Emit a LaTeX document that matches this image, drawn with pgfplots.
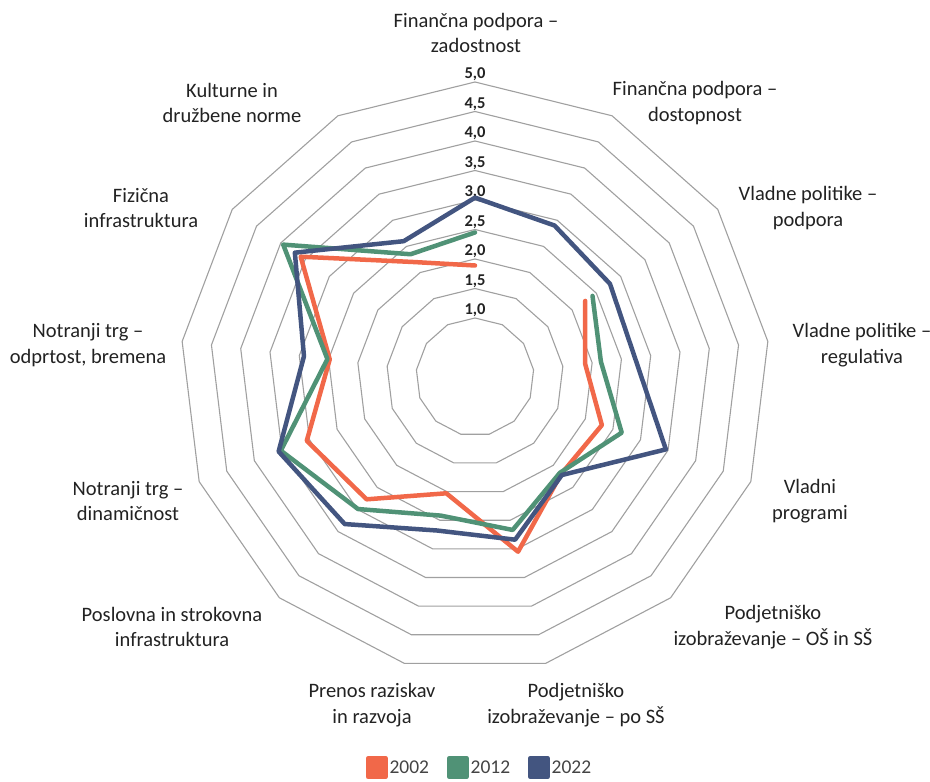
\documentclass[border=0pt]{standalone}
\usepackage{fontspec}
\setmainfont{Carlito}
\usepackage{pgfplots}
\usepackage{pgfplotstable}
\pgfplotsset{compat=1.18}
\usepgfplotslibrary{polar}
\definecolor{c2002}{HTML}{F16849}
\definecolor{c2012}{HTML}{509276}
\definecolor{c2022}{HTML}{435580}
\definecolor{ringc}{HTML}{A0A0A0}
\definecolor{txt}{HTML}{222222}
\definecolor{legtxt}{HTML}{444444}
\pgfplotsset{sqlegend/.style={legend image code/.code={\fill[##1] (0pt,-9pt) rectangle (18pt,9pt);}}}

% angle (deg, counter-clockwise from east), 2002, 2012, 2022
\pgfplotstableread{
ang a b c
90 1.89 2.45 3.04
62.3077 nan nan 2.90
34.6154 2.27 2.42 2.78
6.9231 1.88 2.15 2.73
339.2308 2.30 2.66 3.46
311.5385 2.20 2.17 2.22
283.8462 3.05 2.67 2.84
256.1538 2.03 2.42 2.68
228.4615 2.77 2.99 3.33
200.7692 3.05 3.52 3.56
173.0769 2.48 2.52 2.92
145.3846 3.59 3.95 3.71
117.6923 2.20 2.35 2.60
90 1.89 2.45 3.04
}\radar

\begin{document}
\begin{tikzpicture}[x=1pt,y=1pt]
\path[use as bounding box] (0,0) rectangle (930,782);
\begin{polaraxis}[
  at={(475pt,405pt)}, anchor=center,
  width=590pt, height=590pt, scale only axis,
  hide axis, ymin=0, ymax=5, xmin=0, xmax=360,
  clip=false, unbounded coords=jump,
  sqlegend,
  legend style={at={(0.507,-0.162)}, anchor=center, draw=none, fill=none,
    legend columns=3, font=\fontsize{19.5}{20}\selectfont\color{legtxt},
    nodes={inner sep=1.5pt},
    /tikz/every even column/.append style={column sep=16pt}},
  legend cell align=left,
  every axis plot/.append style={line width=4.5pt, line join=round, line cap=round},
]
\pgfplotsinvokeforeach{1,1.5,2,2.5,3,3.5,4,4.5,5}{
  \addplot[draw=ringc, line width=1.1pt, line join=miter, forget plot] table[x=ang, y expr=#1]{\radar};
}
\tikzset{rlab/.style={anchor=south, font=\fontsize{16.5}{16.5}\selectfont\bfseries, text=txt, inner sep=1pt}}
\node[rlab] at (axis cs:90,1) {1,0};
\node[rlab] at (axis cs:90,1.5) {1,5};
\node[rlab] at (axis cs:90,2) {2,0};
\node[rlab] at (axis cs:90,2.5) {2,5};
\node[rlab] at (axis cs:90,3) {3,0};
\node[rlab] at (axis cs:90,3.5) {3,5};
\node[rlab] at (axis cs:90,4) {4,0};
\node[rlab] at (axis cs:90,4.5) {4,5};
\node[rlab] at (axis cs:90,5) {5,0};
\addplot[color=c2002] table[x=ang, y=a]{\radar};
\addlegendentry{2002}
\addplot[color=c2012] table[x=ang, y=b]{\radar};
\addlegendentry{2012}
\addplot[color=c2022] table[x=ang, y=c]{\radar};
\addlegendentry{2022}
\end{polaraxis}
\begin{scope}[every node/.style={align=center, text=txt, font=\fontsize{20.5}{25.5}\selectfont, inner sep=0pt}]
\node at (476,749) {Finančna podpora –\\zadostnost};
\node at (695,679) {Finančna podpora –\\dostopnost};
\node at (808,574) {Vladne politike –\\podpora};
\node at (862,437) {Vladne politike –\\regulativa};
\node at (810,281) {Vladni\\programi};
\node at (773,155) {Podjetniško\\izobraževanje – OŠ in SŠ};
\node at (576,77) {Podjetniško\\izobraževanje – po SŠ};
\node at (372,77) {Prenos raziskav\\in razvoja};
\node at (172,155) {Poslovna in strokovna\\infrastruktura};
\node at (128,281) {Notranji trg –\\dinamičnost};
\node at (88,437) {Notranji trg –\\odprtost, bremena};
\node at (141,574) {Fizična\\infrastruktura};
\node at (232,679) {Kulturne in\\družbene norme};
\end{scope}
\end{tikzpicture}
\end{document}
